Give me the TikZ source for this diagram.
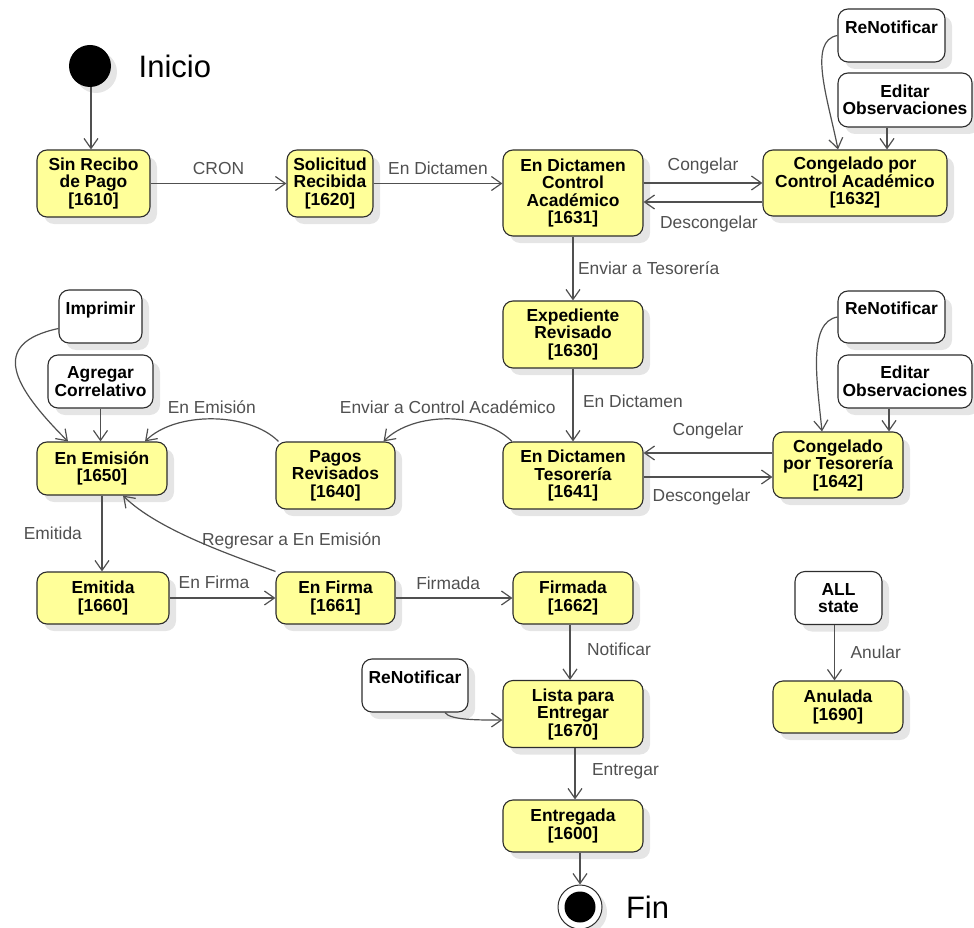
\documentclass[tikz,border=0pt]{standalone}
\usepackage{fontspec}
\setmainfont{Liberation Sans}
\usepackage{tikz}
\usetikzlibrary{arrows.meta,shadows}

\definecolor{stateyellow}{RGB}{255,255,153}
\definecolor{edgegray}{RGB}{80,80,80}
\definecolor{bordergray}{RGB}{45,45,45}

\begin{document}
\begin{tikzpicture}[x=1pt, y=-1pt, >={Straight Barb[length=10pt,width=14pt]},
	state/.style={draw=bordergray, line width=1.1pt, fill=stateyellow, rounded corners=10pt,
		align=center, inner sep=1pt, font=\fontsize{17.4}{17.5}\selectfont\bfseries,
		drop shadow={shadow xshift=7pt, shadow yshift=-7pt, fill=black, opacity=0.1}},
	action/.style={state, fill=white},
	trans/.style={->, draw=edgegray, line width=1.2pt},
	lbl/.style={font=\fontsize{17.4}{18}\selectfont, text=edgegray, inner sep=1.5pt}]
%	\draw [help lines, step=50] (0,0) grid (974,928);
	\useasboundingbox (0,0) rectangle (974,928);

	\node [circle, fill=black, minimum size=42pt, inner sep=0pt,
		drop shadow={shadow xshift=6pt, shadow yshift=-6pt, fill=black, opacity=0.1}] (init) at (90,66) {};
	\node [anchor=west, font=\fontsize{31}{31}\selectfont] (inicio) at ([xshift=24pt]init.east) {Inicio};

	\node [state, minimum width=113pt, minimum height=67pt] (s1610) at (93.5,183.5) {Sin Recibo\\de Pago\\{[1610]}};
	\node [state, minimum width=86pt, minimum height=67pt] (s1620) at (330,183.5) {Solicitud\\Recibida\\{[1620]}};
	\node [state, minimum width=140pt, minimum height=86pt] (s1631) at (573,193) {En Dictamen\\Control\\Académico\\{[1631]}};
	\node [state, minimum width=184pt, minimum height=66pt] (s1632) at (855,183) {Congelado por\\Control Académico\\{[1632]}};
	\node [action, minimum width=107pt, minimum height=53pt] (renot1) at (891.5,35.5) {ReNotificar\\~};
	\node [action, minimum width=134pt, minimum height=54pt] (editobs1) at (905,100) {Editar\\Observaciones};

	\node [state, minimum width=140pt, minimum height=67pt] (s1630) at (573,334.5) {Expediente\\Revisado\\{[1630]}};
	\node [action, minimum width=107pt, minimum height=52pt] (renot2) at (891.5,317) {ReNotificar\\~};
	\node [action, minimum width=134pt, minimum height=53pt] (editobs2) at (905,381.5) {Editar\\Observaciones};
	\node [state, minimum width=130pt, minimum height=66pt] (s1642) at (838,465) {Congelado\\por Tesorería\\{[1642]}};
	\node [state, minimum width=140pt, minimum height=67pt] (s1641) at (573,475.5) {En Dictamen\\Tesorería\\{[1641]}};
	\node [state, minimum width=119pt, minimum height=67pt] (s1640) at (335.5,475.5) {Pagos\\Revisados\\{[1640]}};
	\node [state, minimum width=130pt, minimum height=53pt] (s1650) at (102,468.5) {En Emisión\\{[1650]}};
	\node [action, minimum width=83pt, minimum height=53pt] (imprimir) at (100.5,316.5) {Imprimir\\~};
	\node [action, minimum width=105pt, minimum height=53pt] (agregar) at (100.5,381.5) {Agregar\\Correlativo};

	\node [state, minimum width=132pt, minimum height=52pt] (s1660) at (103,598) {Emitida\\{[1660]}};
	\node [state, minimum width=119pt, minimum height=52pt] (s1661) at (335.5,598) {En Firma\\{[1661]}};
	\node [state, minimum width=120pt, minimum height=52pt] (s1662) at (573,598) {Firmada\\{[1662]}};
	\node [action, minimum width=87pt, minimum height=53pt] (allstate) at (838.5,598) {ALL\\state};
	\node [state, minimum width=130pt, minimum height=52pt] (s1690) at (838,707) {Anulada\\{[1690]}};
	\node [action, minimum width=106pt, minimum height=53pt] (renot3) at (415,685.5) {ReNotificar\\~};
	\node [state, minimum width=140pt, minimum height=67pt] (s1670) at (573,714) {Lista para\\Entregar\\{[1670]}};
	\node [state, minimum width=140pt, minimum height=52pt] (s1600) at (573,826) {Entregada\\{[1600]}};

	\node [circle, draw=bordergray, fill=white, line width=1pt, minimum size=44pt, inner sep=0pt,
		drop shadow={shadow xshift=5pt, shadow yshift=-5pt, fill=black, opacity=0.1}] (fin) at (580,907) {};
	\node [circle, fill=black, minimum size=31pt, inner sep=0pt] (fincore) at (fin) {};
	\node [anchor=west, font=\fontsize{31}{31}\selectfont] (finlbl) at ([xshift=20pt]fin.east) {Fin};

	\draw [trans] ([xshift=1pt]init.south) -- ([xshift=1pt]init.south |- s1610.north);
	\draw [trans] (s1610) -- (s1620) node [lbl, pos=0.5, above=7pt] {CRON};
	\draw [trans] (s1620.east) -- (s1620.east -| s1631.west) node [lbl, pos=0.5, above=7pt] {En Dictamen};
	\draw [trans] (s1632.west -| s1631.east) -- (s1632.west) node [lbl, pos=0.5, above=7pt] {Congelar};
	\draw [trans] ([yshift=-19pt]s1632.west) -- ([yshift=-19pt]s1632.west -| s1631.east) node [lbl, pos=0.45, below=12pt] {Descongelar};
	\draw [trans] (renot1.west) .. controls +(-30,5) and +(-10,-50) .. ([xshift=-17pt]s1632.north);
	\draw [trans] ([xshift=-18pt]editobs1.south) -- ([xshift=-18pt]editobs1.south |- s1632.north);
	\draw [trans] (s1631) -- (s1630) node [lbl, pos=0.5, right=3pt] {Enviar a Tesorería};
	\draw [trans] (s1630) -- (s1641) node [lbl, pos=0.45, right=8pt] {En Dictamen};
	\draw [trans] ([yshift=12pt]s1642.west) -- ([yshift=12pt]s1642.west -| s1641.east) node [lbl, pos=0.5, above=12pt] {Congelar};
	\draw [trans] ([yshift=-1.5pt]s1641.east) -- ([yshift=-1.5pt]s1641.east -| s1642.west) node [lbl, pos=0.45, below=10pt] {Descongelar};
	\draw [trans] (renot2.west) .. controls +(-30,5) and +(-5,-50) .. ([xshift=-16pt]s1642.north);
	\draw [trans] ([xshift=-16pt]editobs2.south) -- ([xshift=-16pt]editobs2.south |- s1642.north);
	\draw [trans] ([xshift=-61pt]s1641.north) .. controls +(-30,-30) and +(30,-30) .. ([xshift=48pt]s1640.north)
		node [lbl, pos=0.5, above=3pt] {Enviar a Control Académico};
	\draw [trans] ([xshift=-57pt]s1640.north) .. controls +(-30,-30) and +(30,-30) .. ([xshift=43pt]s1650.north)
		node [lbl, pos=0.5, above=3pt] {En Emisión};
	\draw [trans] ([yshift=-12pt]imprimir.west) .. controls +(-70,15) and +(-55,-55) .. ([xshift=-34pt]s1650.north);
	\draw [trans] (agregar.south) -- (agregar.south |- s1650.north);
	\draw [trans] (s1650.south) -- (s1650.south |- s1660.north) node [lbl, pos=0.5, left=18pt] {Emitida};
	\draw [trans] (s1660) -- (s1661) node [lbl, pos=0.42, above=7pt] {En Firma};
	\draw [trans] (s1661.north west) .. controls +(-40,-15) and +(35,35) .. ([xshift=21pt]s1650.south)
		node [lbl, pos=0.45, anchor=west, xshift=-6pt, yshift=4pt] {Regresar a En Emisión};
	\draw [trans] (s1661) -- (s1662) node [lbl, pos=0.45, above=6pt] {Firmada};
	\draw [trans] ([xshift=-3pt]s1662.south) -- ([xshift=-3pt]s1662.south |- s1670.north) node [lbl, pos=0.45, right=15pt] {Notificar};
	\draw [trans] ([xshift=30pt]renot3.south) .. controls +(5,8) and +(-20,0) .. ([yshift=-6pt]s1670.west);
	\draw [trans] ([xshift=2pt]s1670.south) -- ([xshift=2pt]s1670.south |- s1600.north) node [lbl, pos=0.45, right=15pt] {Entregar};
	\draw [trans] ([xshift=7pt]s1600.south) -- (fin.north);
	\draw [trans] ([xshift=-4pt]allstate.south) -- ([xshift=-4pt]allstate.south |- s1690.north) node [lbl, pos=0.5, right=14pt] {Anular};
\end{tikzpicture}
\end{document}
